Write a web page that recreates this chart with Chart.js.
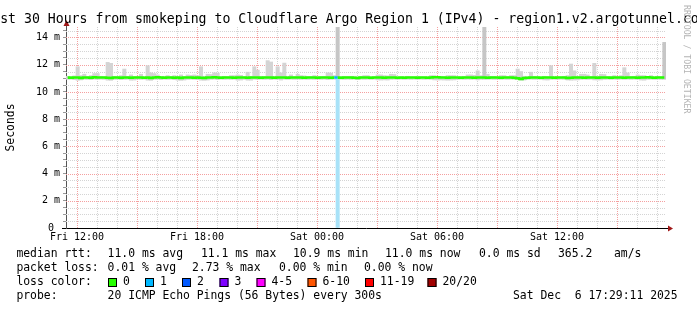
<!DOCTYPE html>
<html>
<head>
<meta charset="utf-8">
<script src="https://cdn.jsdelivr.net/npm/chart.js@4.4.1/dist/chart.umd.min.js"></script>
<style>
  html, body { margin: 0; padding: 0; background: #fff; }
  canvas { display: block; }
</style>
</head>
<body>
<canvas id="smoke" width="697" height="310"></canvas>
<script>
const title = 'Last 30 Hours from smokeping to Cloudflare Argo Region 1 (IPv4) - region1.v2.argotunnel.com';

// time axis: hours since Fri 00:00, one bin = 10 minutes
const startHour = 11.45;
const binHours = 1 / 6;

// rtt per bin, ms
const pingMax = [
  11.15, 11.12, 11.18, 11.85, 11.2, 11.3, 11.12, 11.2, 11.35, 11.35, 11.15, 11.12, 12.17, 12.1, 11.15, 11.12, 11.2, 11.68, 11.15, 11.25,
  11.12, 11.15, 11.3, 11.12, 11.93, 11.4, 11.35, 11.25, 11.12, 11.15, 11.2, 11.12, 11.2, 11.12, 11.25, 11.12, 11.25, 11.22, 11.25, 11.2,
  11.85, 11.15, 11.3, 11.28, 11.4, 11.38, 11.12, 11.15, 11.12, 11.2, 11.2, 11.25, 11.22, 11.12, 11.45, 11.15, 11.85, 11.6, 11.15, 11.12,
  12.3, 12.2, 11.15, 11.85, 11.4, 12.12, 11.15, 11.25, 11.12, 11.3, 11.2, 11.18, 11.12, 11.12, 11.2, 11.12, 11.12, 11.15, 11.4, 11.38,
  11.2, 16.0, 11.12, 11.15, 11.15, 11.15, 11.15, 11.1, 11.15, 11.2, 11.2, 11.1, 11.12, 11.25, 11.25, 11.2, 11.18, 11.3, 11.28, 11.1,
  11.1, 11.12, 11.15, 11.1, 11.1, 11.15, 11.1, 11.1, 11.12, 11.2, 11.2, 11.15, 11.15, 11.12, 11.2, 11.2, 11.2, 11.1, 11.15, 11.15,
  11.25, 11.25, 11.22, 11.55, 11.2, 16.0, 11.3, 11.15, 11.15, 11.1, 11.2, 11.2, 11.12, 11.2, 11.2, 11.68, 11.5, 11.15, 11.12, 11.45,
  11.15, 11.12, 11.1, 11.15, 11.12, 11.93, 11.15, 11.12, 11.1, 11.15, 11.2, 12.05, 11.55, 11.15, 11.3, 11.3, 11.25, 11.12, 12.1, 11.15,
  11.3, 11.28, 11.12, 11.15, 11.2, 11.12, 11.2, 11.78, 11.4, 11.12, 11.15, 11.25, 11.2, 11.2, 11.12, 11.2, 11.12, 11.15, 11.12, 13.64
];
const pingMin = [
  10.92, 10.93, 10.9, 10.85, 10.88, 10.93, 10.92, 10.9, 10.93, 10.92, 10.93, 10.92, 10.86, 10.85, 10.92, 10.93, 10.9, 10.92, 10.93, 10.86,
  10.87, 10.93, 10.92, 10.93, 10.86, 10.85, 10.92, 10.93, 10.9, 10.93, 10.92, 10.93, 10.9, 10.86, 10.85, 10.87, 10.92, 10.93, 10.92, 10.9,
  10.86, 10.85, 10.87, 10.92, 10.93, 10.9, 10.93, 10.92, 10.93, 10.92, 10.93, 10.86, 10.87, 10.92, 10.86, 10.86, 10.93, 10.92, 10.93, 10.92,
  10.93, 10.9, 10.93, 10.92, 10.87, 10.93, 10.92, 10.93, 10.92, 10.93, 10.92, 10.93, 10.92, 10.93, 10.92, 10.93, 10.92, 10.93, 10.9, 10.92,
  10.93, 10.92, 10.93, 10.92, 10.93, 10.92, 10.93, 10.9, 10.93, 10.92, 10.93, 10.92, 10.93, 10.88, 10.87, 10.88, 10.87, 10.92, 10.93, 10.92,
  10.93, 10.92, 10.93, 10.92, 10.93, 10.92, 10.93, 10.92, 10.93, 10.92, 10.88, 10.87, 10.88, 10.87, 10.86, 10.87, 10.88, 10.92, 10.93, 10.92,
  10.93, 10.92, 10.93, 10.88, 10.92, 10.93, 10.92, 10.93, 10.92, 10.93, 10.92, 10.93, 10.92, 10.93, 10.92, 10.93, 10.86, 10.87, 10.92, 10.93,
  10.92, 10.93, 10.92, 10.88, 10.87, 10.92, 10.93, 10.92, 10.93, 10.92, 10.87, 10.86, 10.87, 10.88, 10.92, 10.93, 10.92, 10.93, 10.88, 10.87,
  10.88, 10.92, 10.93, 10.92, 10.93, 10.92, 10.93, 10.92, 10.93, 10.92, 10.93, 10.92, 10.87, 10.86, 10.92, 10.93, 10.92, 10.93, 10.92, 10.93
];
const median = [
  11.05, 11.04, 11.06, 11.05, 11.03, 11.06, 11.05, 11.04, 11.07, 11.05, 11.06, 11.05, 11.04, 11.03, 11.06, 11.05, 11.04, 11.06, 11.05, 11.04,
  11.05, 11.06, 11.05, 11.04, 11.05, 11.03, 11.06, 11.07, 11.05, 11.04, 11.05, 11.06, 11.04, 11.05, 11.03, 11.05, 11.06, 11.05, 11.04, 11.05,
  11.04, 11.03, 11.05, 11.06, 11.07, 11.05, 11.04, 11.05, 11.06, 11.05, 11.04, 11.05, 11.06, 11.05, 11.04, 11.05, 11.06, 11.05, 11.04, 11.05,
  11.05, 11.06, 11.04, 11.05, 11.06, 11.05, 11.04, 11.05, 11.05, 11.06, 11.05, 11.04, 11.05, 11.06, 11.05, 11.04, 11.05, 11.06, 11.05, 11.04,
  11.05, 11.06, 11.04, 11.05, 11.06, 11.05, 11.04, 11.03, 11.05, 11.06, 11.05, 11.04, 11.05, 11.06, 11.05, 11.04, 11.05, 11.06, 11.05, 11.04,
  11.05, 11.04, 11.05, 11.06, 11.05, 11.04, 11.05, 11.05, 11.04, 11.05, 11.07, 11.08, 11.06, 11.05, 11.04, 11.05, 11.06, 11.05, 11.04, 11.05,
  11.06, 11.05, 11.04, 11.05, 11.06, 11.05, 11.04, 11.05, 11.06, 11.05, 11.04, 11.05, 11.06, 11.05, 11.04, 11.0, 10.95, 11.02, 11.04, 11.05,
  11.06, 11.05, 11.04, 11.05, 11.06, 11.05, 11.04, 11.05, 11.06, 11.05, 11.03, 11.04, 11.05, 11.06, 11.05, 11.04, 11.05, 11.06, 11.05, 11.04,
  11.05, 11.06, 11.05, 11.04, 11.05, 11.06, 11.05, 11.04, 11.05, 11.06, 11.05, 11.04, 11.05, 11.06, 11.07, 11.05, 11.04, 11.05, 11.06, 11.05
];
// bins with packet loss (pings lost out of 20)
const lossBins = [81];
const lossPings = [1];

const xTickValues = [12, 18, 24, 30, 36];
const xTickLabels = ['Fri 12:00', 'Fri 18:00', 'Sat 00:00', 'Sat 06:00', 'Sat 12:00'];
const yTickValues = [0, 2, 4, 6, 8, 10, 12, 14];
const yTickLabels = ['0 ', '2 m', '4 m', '6 m', '8 m', '10 m', '12 m', '14 m'];

const rttStats = ['11.0 ms avg', '11.1 ms max', '10.9 ms min', '11.0 ms now', '0.0 ms sd', '365.2', 'am/s'];
const lossStats = ['0.01 % avg', '2.73 % max', '0.00 % min', '0.00 % now'];
const lossLabels = ['0', '1', '2', '3', '4-5', '6-10', '11-19', '20/20'];
const lossColors = ['#26ff00', '#00b8ff', '#0059ff', '#7e00ff', '#ff00ff', '#ff5500', '#ff0000', '#a10000'];
const probeText = '20 ICMP Echo Pings (56 Bytes) every 300s';
const stamp = 'Sat Dec  6 17:29:11 2025';

const mono = '"DejaVu Sans Mono", monospace';
const binX = i => startHour + (i + 0.5) * binHours;
const lossAt = i => { const j = lossBins.indexOf(i); return j < 0 ? 0 : lossPings[j]; };
const lossColor = n => n === 0 ? lossColors[0] : n === 1 ? lossColors[1] : n === 2 ? lossColors[2] : n === 3 ? lossColors[3]
  : n <= 5 ? lossColors[4] : n <= 10 ? lossColors[5] : n < 20 ? lossColors[6] : lossColors[7];

const MAJOR = '#f4a0a0';
const MINOR = '#d4d4d4';

// rrd-style dotted grid, drawn under the data
const rrdGrid = {
  id: 'rrdGrid',
  beforeDatasetsDraw(chart) {
    const { ctx, chartArea: a, scales: { x, y } } = chart;
    ctx.save();
    ctx.lineWidth = 1;
    ctx.setLineDash([1, 1]);
    const vline = (h, col) => {
      const px = Math.round(x.getPixelForValue(h)) + 0.5;
      ctx.strokeStyle = col;
      ctx.beginPath(); ctx.moveTo(px, a.top); ctx.lineTo(px, a.bottom); ctx.stroke();
    };
    const hline = (v, col) => {
      const py = Math.round(y.getPixelForValue(v)) + 0.5;
      ctx.strokeStyle = col;
      ctx.beginPath(); ctx.moveTo(a.left, py); ctx.lineTo(a.right, py); ctx.stroke();
    };
    for (let h = 12; h <= 41; h++) if (h % 3) vline(h, MINOR);
    for (let k = 1; k <= 29; k++) if (k % 4) hline(k / 2, MINOR);
    for (let h = 12; h <= 41; h += 3) vline(h, MAJOR);
    for (let k = 4; k <= 28; k += 4) hline(k / 2, MAJOR);
    ctx.restore();
  }
};

const decor = {
  id: 'decor',
  afterDraw(chart) {
    const { ctx, chartArea: a } = chart;
    ctx.save();
    // axis stubs and arrows
    ctx.strokeStyle = '#555';
    ctx.lineWidth = 1;
    ctx.beginPath();
    ctx.moveTo(a.left + 0.5, a.top); ctx.lineTo(a.left + 0.5, a.top - 3);
    ctx.stroke();
    ctx.strokeStyle = '#000';
    ctx.beginPath();
    ctx.moveTo(a.left - 4, a.bottom + 0.5); ctx.lineTo(a.left, a.bottom + 0.5);
    ctx.moveTo(a.right, a.bottom + 0.5); ctx.lineTo(a.right + 3, a.bottom + 0.5);
    ctx.stroke();
    ctx.fillStyle = '#a01818';
    ctx.beginPath();
    ctx.moveTo(a.left + 0.5, a.top - 7); ctx.lineTo(a.left - 2.5, a.top - 1); ctx.lineTo(a.left + 3.5, a.top - 1);
    ctx.closePath(); ctx.fill();
    ctx.beginPath();
    ctx.moveTo(a.right + 7, a.bottom + 0.5); ctx.lineTo(a.right + 2, a.bottom - 2.5); ctx.lineTo(a.right + 2, a.bottom + 3.5);
    ctx.closePath(); ctx.fill();

    // title
    ctx.fillStyle = '#000';
    ctx.font = '13.2px ' + mono;
    ctx.textAlign = 'center';
    ctx.textBaseline = 'alphabetic';
    ctx.fillText(title, 345.5, 23);

    // watermark
    ctx.save();
    ctx.translate(686.5, 5);
    ctx.rotate(Math.PI / 2);
    ctx.font = '8.2px ' + mono;
    ctx.fillStyle = '#b4b4b4';
    ctx.textAlign = 'left';
    ctx.textBaseline = 'middle';
    ctx.fillText('RRDTOOL / TOBI OETIKER', 0, 0);
    ctx.restore();

    // legend block
    ctx.font = '11.4px ' + mono;
    ctx.textAlign = 'left';
    ctx.textBaseline = 'middle';
    ctx.fillStyle = '#000';
    const rttX = [107.6, 200.9, 293, 385, 479, 558, 614];
    ctx.fillText('median rtt:', 16.4, 254.5);
    rttStats.forEach((s, i) => ctx.fillText(s, rttX[i], 254.5));
    const lossX = [107.6, 192, 279, 364];
    ctx.fillText('packet loss:', 16.4, 268.5);
    lossStats.forEach((s, i) => ctx.fillText(s, lossX[i], 268.5));
    ctx.fillText('loss color:', 16.4, 282.5);
    const boxX = [108, 145, 182, 219.5, 256.5, 307.5, 365, 427.5];
    lossLabels.forEach((s, i) => {
      ctx.fillStyle = lossColors[i];
      ctx.fillRect(boxX[i], 278, 9, 9);
      ctx.strokeStyle = '#000';
      ctx.strokeRect(boxX[i] + 0.5, 278.5, 8, 8);
      ctx.fillStyle = '#000';
      ctx.fillText(s, boxX[i] + 15, 282.5);
    });
    ctx.fillText('probe:', 16.4, 296.5);
    ctx.fillText(probeText, 107.6, 296.5);
    ctx.fillText(stamp, 513, 296.5);
    ctx.restore();
  }
};

Chart.defaults.color = '#000';

new Chart(document.getElementById('smoke'), {
  type: 'bar',
  data: {
    datasets: [
      {
        type: 'line',
        label: 'median rtt',
        data: median.map((v, i) => ({ x: binX(i), y: v })),
        borderColor: lossColors[0],
        borderWidth: 2.5,
        pointRadius: 0,
        stepped: 'middle',
        segment: { borderColor: c => lossColor(lossAt(c.p1DataIndex)) },
        order: 0
      },
      {
        label: 'loss',
        data: lossBins.map(i => ({ x: binX(i), y: [0, median[i]] })),
        backgroundColor: '#a8e2f8',
        grouped: false,
        barPercentage: 1,
        categoryPercentage: 1,
        order: 1
      },
      {
        label: 'smoke',
        data: pingMax.map((v, i) => ({ x: binX(i), y: [pingMin[i], v] })),
        backgroundColor: c => (c.raw && c.raw.y[1] > 13) ? '#c6c6c6' : '#d4d4d4',
        grouped: false,
        barPercentage: 1,
        categoryPercentage: 1,
        order: 2
      }
    ]
  },
  options: {
    responsive: false,
    animation: false,
    devicePixelRatio: 1,
    layout: { padding: { top: 27, right: 31, bottom: 0, left: 0 } },
    plugins: { legend: { display: false }, tooltip: { enabled: false }, title: { display: false } },
    scales: {
      x: {
        type: 'linear',
        min: startHour,
        max: startHour + 30,
        offset: false,
        afterBuildTicks: s => { s.ticks = xTickValues.map(v => ({ value: v })); },
        afterFit: s => { s.height = 82; },
        ticks: {
          autoSkip: false, maxRotation: 0, padding: 0,
          font: { family: mono, size: 10 },
          callback: v => { const j = xTickValues.indexOf(v); return j < 0 ? '' : xTickLabels[j]; }
        },
        grid: { drawOnChartArea: false, tickLength: 3, tickColor: 'rgba(0,0,0,0)' },
        border: { color: '#000', width: 1 }
      },
      y: {
        min: 0,
        max: 14.77,
        afterBuildTicks: s => { s.ticks = []; for (let k = 0; k <= 29; k++) s.ticks.push({ value: k / 2 }); },
        afterFit: s => { s.width = 66; },
        ticks: {
          autoSkip: false, padding: 3,
          font: { family: mono, size: 10 },
          callback: v => { const j = yTickValues.indexOf(v); return j < 0 ? '' : yTickLabels[j]; }
        },
        grid: { drawOnChartArea: false, tickLength: 3, tickColor: '#999' },
        border: { color: '#555', width: 1 },
        title: {
          display: true, text: 'Seconds',
          font: { family: mono, size: 11.4 },
          padding: { top: 4, bottom: 0 }
        }
      }
    }
  },
  plugins: [rrdGrid, decor]
});
</script>
</body>
</html>
